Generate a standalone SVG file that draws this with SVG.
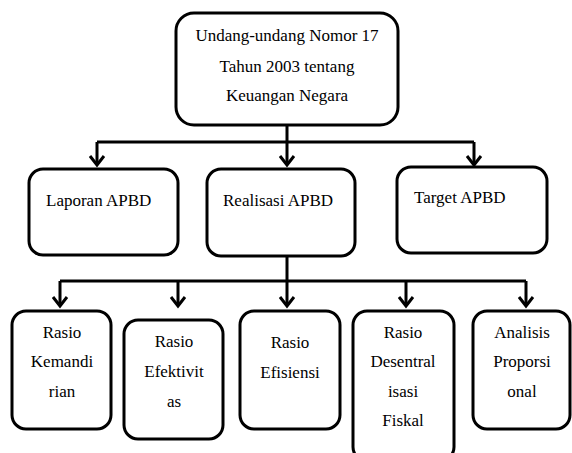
<svg xmlns="http://www.w3.org/2000/svg" width="572" height="453" viewBox="0 0 572 453">
<style>
.box{fill:#fff;stroke:#000;stroke-width:3}
.ln{fill:none;stroke:#000;stroke-width:3;stroke-linecap:butt}
.ah{fill:none;stroke:#000;stroke-width:3;stroke-linejoin:miter}
text{font-family:"Liberation Serif","Times New Roman",serif;font-size:17px;fill:#000}
.c{text-anchor:middle}
</style>
<rect width="572" height="453" fill="#fff"/>
<g id="connectors">
<path class="ln" d="M287 125V142M97 142H474M97 142V165M287 142V165M474 142V165"/>
<path class="ah" d="M90 156L97 165L104 156M280 156L287 165L294 156M467 156L474 165L481 156"/>
<path class="ln" d="M287 256V281M60 281H526M60 281V306M178 281V306M287 281V306M406 281V306M526 281V306"/>
<path class="ah" d="M53 297L60 306L67 297M171 297L178 306L185 297M280 297L287 306L294 297M399 297L406 306L413 297M519 297L526 306L533 297"/>
</g>
<g id="uu">
<rect class="box" x="176" y="13" width="222" height="112" rx="18"/>
<text class="c" x="287" y="41">Undang-undang Nomor 17</text>
<text class="c" x="287" y="71.5">Tahun 2003 tentang</text>
<text class="c" x="287" y="100.5">Keuangan Negara</text>
</g>
<g id="laporan">
<rect class="box" x="29" y="169" width="149" height="86" rx="14"/>
<text x="46" y="206">Laporan APBD</text>
</g>
<g id="realisasi">
<rect class="box" x="207" y="169" width="148" height="87" rx="14"/>
<text x="223" y="206">Realisasi APBD</text>
</g>
<g id="target">
<rect class="box" x="397" y="167" width="150" height="86" rx="14"/>
<text x="414" y="203">Target APBD</text>
</g>
<g id="kemandirian">
<rect class="box" x="12" y="311" width="99" height="118" rx="14"/>
<text class="c" x="62" y="338">Rasio</text>
<text class="c" x="62" y="367">Kemandi</text>
<text class="c" x="62" y="397">rian</text>
</g>
<g id="efektivitas">
<rect class="box" x="124" y="320" width="99" height="119" rx="14"/>
<text class="c" x="174" y="347">Rasio</text>
<text class="c" x="174" y="377">Efektivit</text>
<text class="c" x="174" y="407">as</text>
</g>
<g id="efisiensi">
<rect class="box" x="240" y="311" width="100" height="118" rx="14"/>
<text class="c" x="290" y="348">Rasio</text>
<text class="c" x="290" y="378">Efisiensi</text>
</g>
<g id="desentralisasi">
<rect class="box" x="353" y="311" width="101" height="150" rx="14"/>
<text class="c" x="403" y="338">Rasio</text>
<text class="c" x="403" y="367">Desentral</text>
<text class="c" x="403" y="397">isasi</text>
<text class="c" x="403" y="426">Fiskal</text>
</g>
<g id="analisis">
<rect class="box" x="473" y="311" width="97" height="118" rx="14"/>
<text class="c" x="522" y="338">Analisis</text>
<text class="c" x="522" y="367">Proporsi</text>
<text class="c" x="522" y="397">onal</text>
</g>
</svg>
